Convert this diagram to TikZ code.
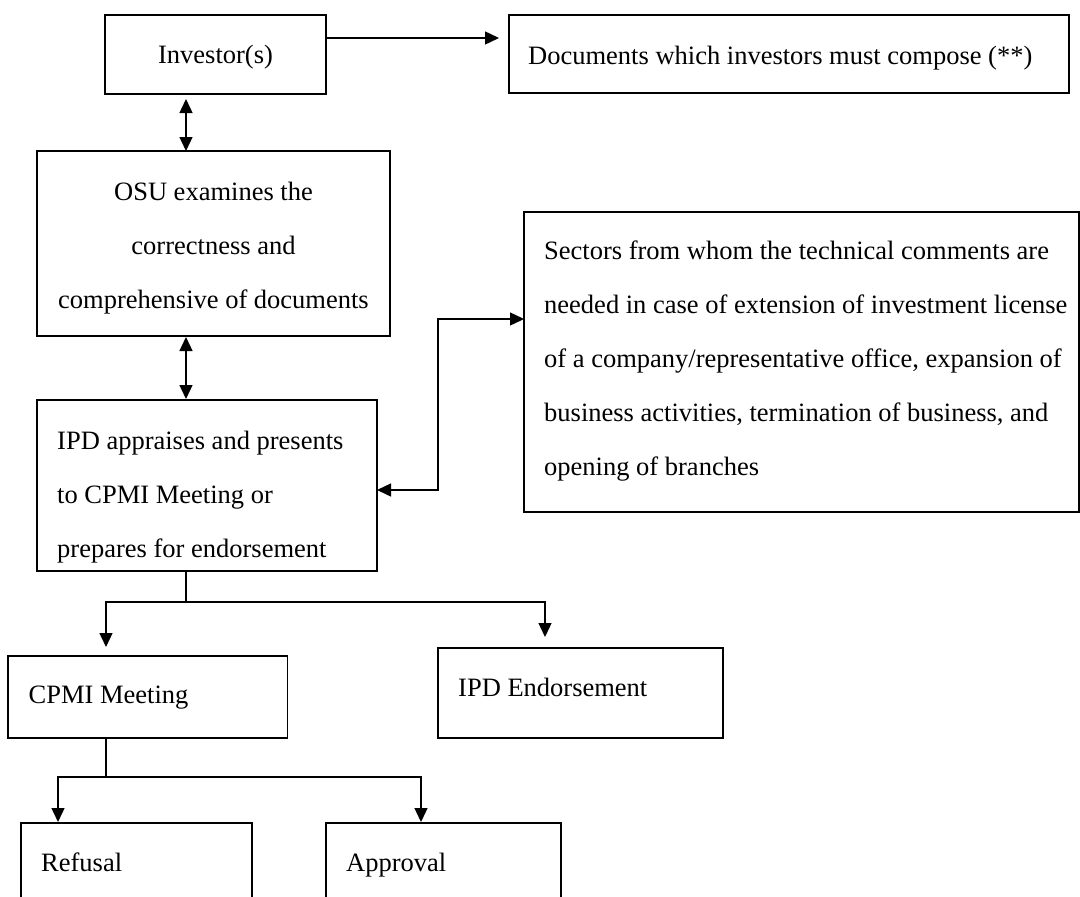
\documentclass[tikz,border=0pt]{standalone}
\usepackage{fontspec}
\setmainfont{Liberation Serif}
\usetikzlibrary{arrows.meta}
\begin{document}
\begin{tikzpicture}[x=1pt,y=-1pt,
  box/.style={draw, line width=1.4pt, rectangle, anchor=north west, inner sep=0pt, outer sep=0pt},
  txt/.style={inner sep=0pt, font=\fontsize{26.5}{54}\selectfont},
  conn/.style={line width=1.4pt},
  >={Triangle[length=14pt,width=13pt]}]
\useasboundingbox (0,0) rectangle (1080,897);
\clip (0,0) rectangle (1080,897);
\fill[white] (0,0) rectangle (1080,897);

% boxes
\node[box, minimum width=221pt, minimum height=79pt] (inv) at (105,15) {};
\node[box, minimum width=560pt, minimum height=78pt] (docs) at (509,15) {};
\node[box, minimum width=353pt, minimum height=185pt] (osu) at (37,151) {};
\node[box, minimum width=555pt, minimum height=300pt] (sect) at (524,212) {};
\node[box, minimum width=340pt, minimum height=171pt] (ipd) at (37,400) {};
\node[box, minimum width=279.5pt, minimum height=82pt] (cpmi) at (8,656) {};
\node[box, minimum width=285pt, minimum height=90pt] (endo) at (438,648) {};
\node[box, minimum width=231pt, minimum height=100pt] (ref) at (21,823) {};
\node[box, minimum width=235pt, minimum height=100pt] (app) at (326,823) {};

% texts
\node[txt, anchor=base] (invT) at (215.5,63) {Investor(s)};
\node[txt, anchor=base west] (docsT) at (528,64) {Documents which investors must compose (**)};
\node[txt, anchor=base] (osuT) at (213.5,200) {\begin{tabular}[t]{@{}c@{}}OSU examines the\\correctness and\\comprehensive of documents\end{tabular}};
\node[txt, anchor=base west] (sectT) at (544,259) {\begin{tabular}[t]{@{}l@{}}Sectors from whom the technical comments are\\needed in case of extension of investment license\\of a company/representative office, expansion of\\business activities, termination of business, and\\opening of branches\end{tabular}};
\node[txt, anchor=base west] (ipdT) at (57,449) {\begin{tabular}[t]{@{}l@{}}IPD appraises and presents\\to CPMI Meeting or\\prepares for endorsement\end{tabular}};
\node[txt, anchor=base west] (cpmiT) at (28.5,703) {CPMI Meeting};
\node[txt, anchor=base west] (endoT) at (458,696) {IPD Endorsement};
\node[txt, anchor=base west] (refT) at (41,871) {Refusal};
\node[txt, anchor=base west] (appT) at (346,871) {Approval};

% connectors
\draw[conn,->] ([yshift=-23pt]inv.north east) -- ([xshift=-10pt,yshift=-23pt]docs.north west);
\draw[conn,<->] ([xshift=81pt,yshift=-5pt]inv.south west) -- ([xshift=149pt]osu.north west);
\draw[conn,<->] ([xshift=149pt,yshift=-1pt]osu.south west) -- ([xshift=149pt,yshift=1pt]ipd.north west);
\draw[conn,<->] ([yshift=-90pt]ipd.north east) -- ++(61pt,0pt) |- ([yshift=-107pt]sect.north west);

\coordinate (j1) at (186,602);
\draw[conn] ([xshift=149pt]ipd.south west) -- (j1);
\draw[conn,->] (j1) -| ([xshift=98pt,yshift=9pt]cpmi.north west);
\draw[conn,->] (j1) -| ([xshift=107pt,yshift=11pt]endo.north west);

\coordinate (j2) at (106,777);
\draw[conn] ([xshift=98pt]cpmi.south west) -- (j2);
\draw[conn,->] (j2) -| ([xshift=37pt,yshift=1pt]ref.north west);
\draw[conn,->] (j2) -| ([xshift=95pt,yshift=1pt]app.north west);
\end{tikzpicture}
\end{document}
